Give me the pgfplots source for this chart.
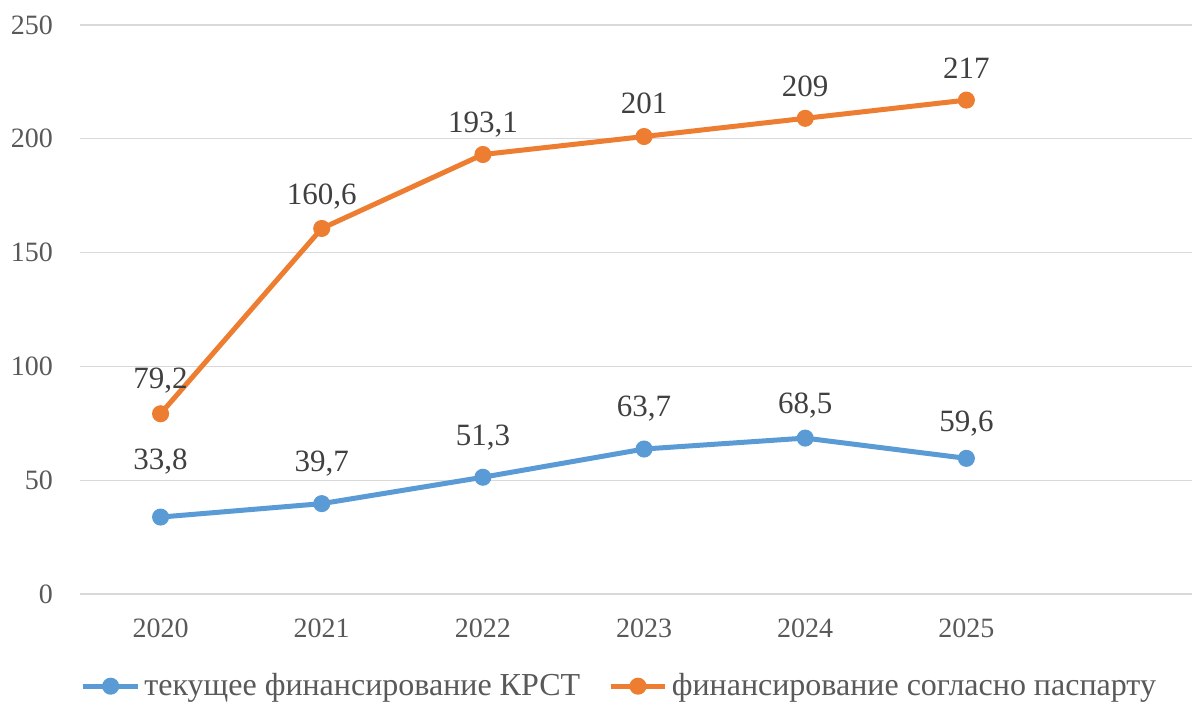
\documentclass[border=0pt]{standalone}
\usepackage{fontspec}
\setmainfont{Liberation Serif}
\usepackage{pgfplots}
\usepackage{pgfplotstable}
\pgfplotsset{compat=1.18}
\definecolor{cblue}{HTML}{5B9BD5}
\definecolor{corange}{HTML}{ED7D31}
\definecolor{labgray}{HTML}{404040}
\definecolor{tickgray}{HTML}{595959}
\definecolor{gridgray}{HTML}{D9D9D9}
\pgfplotstableread{
x y lab dy
0 33.8 33,8 27.5
1 39.7 39,7 20
2 51.3 51,3 20
3 63.7 63,7 20
4 68.5 68,5 16.5
5 59.6 59,6 17.5
}\blue
\pgfplotstableread{
x y lab dy
0 79.2 79,2 16.5
1 160.6 160,6 16
2 193.1 193,1 15
3 201 201 16.5
4 209 209 16
5 217 217 16
}\orange
\begin{document}
\begin{tikzpicture}
\useasboundingbox (0,0) rectangle (596pt,351pt);
\begin{axis}[
  at={(40pt,54pt)}, anchor=south west,
  scale only axis, width=556pt, height=284.5pt,
  xmin=-0.5, xmax=6.4, ymin=0, ymax=250,
  xtick={0,...,5}, xticklabels={2020,2021,2022,2023,2024,2025},
  ytick={0,50,...,250},
  ymajorgrids, grid style={gridgray, line width=0.6pt},
  axis line style={draw=none},
  axis x line*=bottom, axis y line*=left,
  x axis line style={draw=gridgray, line width=0.6pt},
  major tick length=0pt,
  /pgf/number format/assume math mode=true,
  tick label style={font=\fontsize{14}{16}\selectfont, text=tickgray},
  yticklabel style={xshift=-10pt},
  xticklabel style={yshift=-9pt},
  legend style={at={(0.486,-0.162)}, anchor=center, draw=none, legend columns=2,
    font=\fontsize{16}{19}\selectfont, text=tickgray, inner sep=0pt,
    /tikz/every even column/.append style={column sep=12pt}},
  legend image code/.code={\draw[#1, mark repeat=2, mark phase=2] plot coordinates {(0cm,0cm) (0.48cm,0cm) (0.96cm,0cm)};},
  clip=false,
  nodes near coords={\pgfplotspointmeta},
  point meta=explicit symbolic,
  visualization depends on={\thisrow{dy} \as \dy},
  every node near coord/.append style={anchor=center, font=\fontsize{15.5}{18}\selectfont, text=labgray, yshift=\dy pt},
]
\addplot[cblue, line width=2.5pt, mark=*, mark size=3pt] table[x=x, y=y, meta=lab] {\blue};
\addlegendentry{текущее финансирование КРСТ}
\addplot[corange, line width=2.5pt, mark=*, mark size=3pt] table[x=x, y=y, meta=lab] {\orange};
\addlegendentry{финансирование согласно паспарту}
\end{axis}
\end{tikzpicture}
\end{document}
